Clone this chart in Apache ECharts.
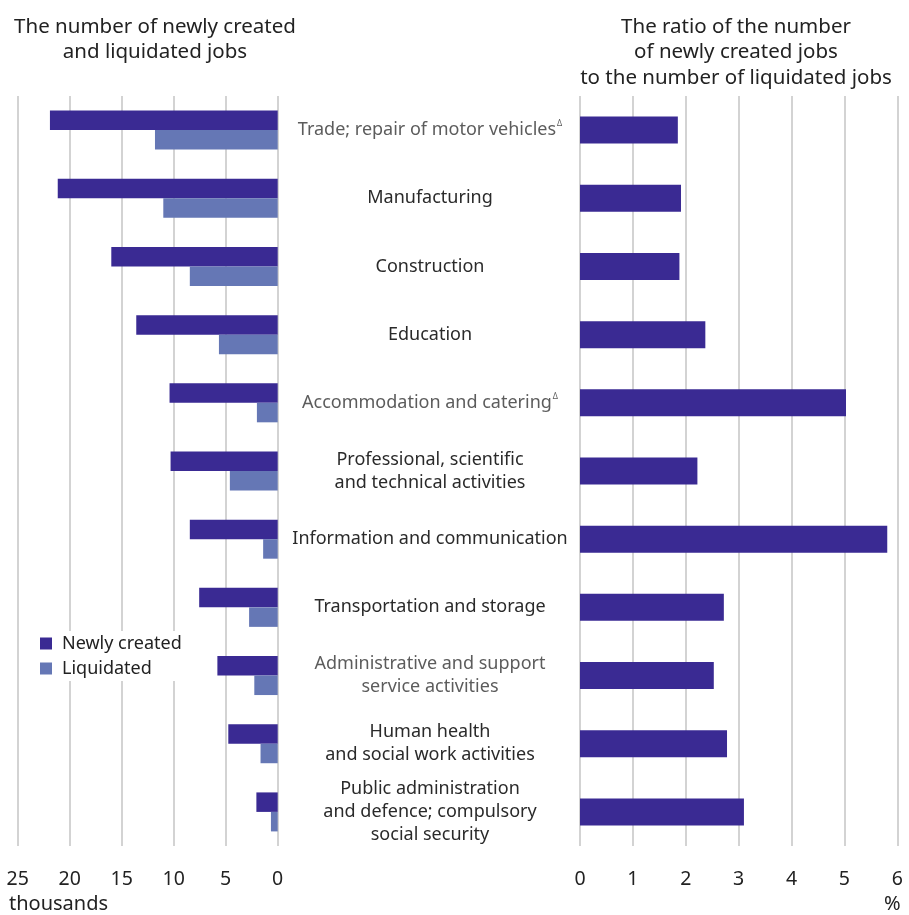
<!DOCTYPE html>
<html><head><meta charset="utf-8">
<script src="https://cdn.jsdelivr.net/npm/echarts@6/dist/echarts.min.js"></script>
<style>html,body{margin:0;padding:0;background:#fff}#c{width:909px;height:915px}</style>
</head><body><div id="c"></div>
<script>
const categories = [
  "Trade; repair of motor vehicles",
  "Manufacturing",
  "Construction",
  "Education",
  "Accommodation and catering",
  "Professional, scientific\nand technical activities",
  "Information and communication",
  "Transportation and storage",
  "Administrative and support\nservice activities",
  "Human health\nand social work activities",
  "Public administration\nand defence; compulsory\nsocial security"
];
const supMark = [true,false,false,false,true,false,false,false,false,false,false];
const greyLabel = [true,false,false,false,true,false,false,false,true,false,false];
const newlyCreated = [21.9, 21.15, 16.0, 13.6, 10.4, 10.3, 8.45, 7.55, 5.8, 4.75, 2.05];
const liquidated = [11.8, 11.0, 8.45, 5.65, 2.0, 4.6, 1.4, 2.75, 2.25, 1.65, 0.65];
const ratio = [1.85, 1.91, 1.88, 2.37, 5.03, 2.22, 5.81, 2.72, 2.53, 2.78, 3.10];
const leftTicks = [0, 5, 10, 15, 20, 25];
const rightTicks = [0, 1, 2, 3, 4, 5, 6];

const FONT = "Noto Sans";
const DARK = "#3a2a93";
const LIGHT = "#6577b5";
const GRIDC = "#c4c4c4";

const chart = echarts.init(document.getElementById('c'), null, {renderer: 'canvas'});
const gTop = 96, gH = 750;

chart.setOption({
  backgroundColor: '#fff',
  textStyle: {fontFamily: FONT},
  animation: false,
  title: [
    {text: 'The number of newly created\nand liquidated jobs', left: 150, top: 9, textAlign: 'center',
     textStyle: {fontFamily: FONT, fontSize: 20.5, fontWeight: 'normal', color: '#222', lineHeight: 25.5}},
    {text: 'The ratio of the number\nof newly created jobs\nto the number of liquidated jobs', left: 731, top: 9, textAlign: 'center',
     textStyle: {fontFamily: FONT, fontSize: 20.5, fontWeight: 'normal', color: '#222', lineHeight: 25.5}}
  ],
  legend: {
    data: ['Newly created', 'Liquidated'],
    orient: 'vertical', left: 33, top: 631, icon: 'rect', itemWidth: 12, itemHeight: 12, itemGap: 4,
    backgroundColor: '#fff', padding: [2, 10, 2, 7],
    textStyle: {fontFamily: FONT, fontSize: 18, color: '#222', padding: [0, 0, 0, 5], lineHeight: 21}
  },
  grid: [
    {left: 17.7, right: 909 - 277.7, top: gTop, height: gH},
    {left: 580, right: 909 - 897.3, top: gTop, height: gH}
  ],
  xAxis: [
    {gridIndex: 0, type: 'value', inverse: true, min: leftTicks[0], max: leftTicks[leftTicks.length-1], interval: 5,
     axisLine: {show: false}, axisTick: {show: false},
     splitLine: {show: true, lineStyle: {color: GRIDC, width: 1.5}},
     axisLabel: {fontFamily: FONT, fontSize: 19.5, color: '#222', margin: 23}},
    {gridIndex: 1, type: 'value', min: rightTicks[0], max: rightTicks[rightTicks.length-1], interval: 1,
     axisLine: {show: false}, axisTick: {show: false},
     splitLine: {show: true, lineStyle: {color: GRIDC, width: 1.5}},
     axisLabel: {fontFamily: FONT, fontSize: 19.5, color: '#222', margin: 23}}
  ],
  yAxis: [
    {gridIndex: 0, type: 'category', inverse: true, data: categories, position: 'right',
     axisLine: {show: false}, axisTick: {show: false}, axisLabel: {show: false}, splitLine: {show: false}},
    {gridIndex: 1, type: 'category', inverse: true, data: categories,
     axisLine: {show: false}, axisTick: {show: false}, splitLine: {show: false},
     axisLabel: {
       margin: 150, align: 'center', fontFamily: FONT, fontSize: 18, lineHeight: 23, color: '#2a2a2a',
       formatter: function (v, i) {
         const st = greyLabel[i] ? 'g' : 'd';
         const lines = v.split('\n').map(l => '{' + st + '|' + l + '}');
         if (supMark[i]) lines[lines.length-1] += '{s|Δ}';
         return lines.join('\n');
       },
       rich: {
         d: {fontFamily: FONT, fontSize: 18, color: '#2a2a2a', lineHeight: 23},
         g: {fontFamily: FONT, fontSize: 18, color: '#5c5c5c', lineHeight: 23},
         s: {fontFamily: FONT, fontSize: 8, color: '#5c5c5c', lineHeight: 23, padding: [0, 0, 13, 1]}
       }
     }}
  ],
  graphic: [
    {type: 'text', left: 9, top: 894, style: {text: 'thousands', fontFamily: FONT, fontSize: 20, fill: '#222'}},
    {type: 'text', left: 884, top: 894, style: {text: '%', fontFamily: FONT, fontSize: 20, fill: '#222'}}
  ],
  series: [
    {name: 'Newly created', type: 'bar', xAxisIndex: 0, yAxisIndex: 0, data: newlyCreated,
     barWidth: 19.5, barGap: '0%', itemStyle: {color: DARK}},
    {name: 'Liquidated', type: 'bar', xAxisIndex: 0, yAxisIndex: 0, data: liquidated,
     barWidth: 19.5, barGap: '0%', itemStyle: {color: LIGHT}},
    {name: 'Ratio', type: 'bar', xAxisIndex: 1, yAxisIndex: 1, data: ratio,
     barWidth: 27, itemStyle: {color: DARK}}
  ]
});
</script></body></html>
